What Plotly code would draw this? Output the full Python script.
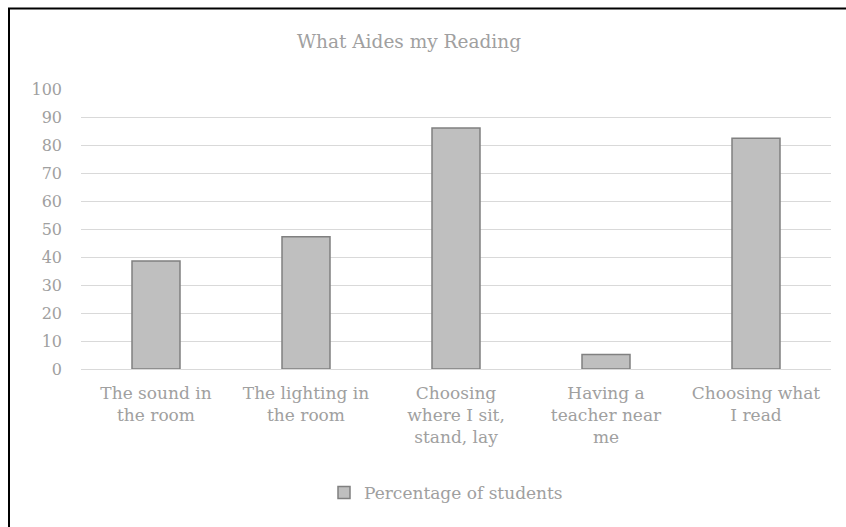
import plotly.graph_objects as go

categories = ["The sound in<br>the room", "The lighting in<br>the room",
              "Choosing<br>where I sit,<br>stand, lay", "Having a<br>teacher near<br>me",
              "Choosing what<br>I read"]
values = [38.6, 47.2, 86.1, 5.2, 82.4]
series_name = "Percentage of students"
y_ticks = [0, 10, 20, 30, 40, 50, 60, 70, 80, 90, 100]

FONT = "DejaVu Serif"
TXT = "#a0a0a0"

fig = go.Figure()
fig.add_trace(go.Bar(
    x=categories, y=values, name=series_name,
    marker=dict(color="#bfbfbf", line=dict(color="#808080", width=1.5)),
    showlegend=True,
))

W, H = 846, 527
L, R, T, B = 81, 15, 89, 158
pw = W - L - R
ph = H - T - B

def px_to_paper_x(px):
    return (px - L) / pw

def px_to_paper_y(py):
    return (H - B - py) / ph

fig.update_layout(
    width=W, height=H,
    margin=dict(l=L, r=R, t=T, b=B, autoexpand=False),
    paper_bgcolor="white", plot_bgcolor="white",
    font=dict(family=FONT, color=TXT, size=17),
    title=dict(text="What Aides my Reading", x=409 / W, xanchor="center",
               y=1 - 42 / H, yanchor="middle",
               font=dict(family=FONT, size=18.5, color=TXT)),
    bargap=0.68,
    legend=dict(orientation="h", x=px_to_paper_x(446), xanchor="center",
                y=px_to_paper_y(493), yanchor="middle",
                font=dict(family=FONT, size=17, color=TXT),
                itemwidth=30),
    xaxis=dict(showgrid=False, showline=False, ticks="", automargin=False,
               tickfont=dict(family=FONT, size=17, color=TXT),
               ticklabelstandoff=12),
    yaxis=dict(range=[0, 100], tickvals=y_ticks, showgrid=True,
               gridcolor="#d9d9d9", gridwidth=1.3, zeroline=True,
               zerolinecolor="#d9d9d9", zerolinewidth=1.3,
               showline=False, ticks="", automargin=False,
               tickfont=dict(family=FONT, size=16, color=TXT),
               ticklabelstandoff=18),
    shapes=[dict(type="rect", xref="paper", yref="paper",
                 x0=px_to_paper_x(9), x1=px_to_paper_x(870),
                 y0=px_to_paper_y(550), y1=px_to_paper_y(8.5),
                 line=dict(color="black", width=2), fillcolor="rgba(0,0,0,0)",
                 layer="below")],
)

fig.write_html("out.html")
